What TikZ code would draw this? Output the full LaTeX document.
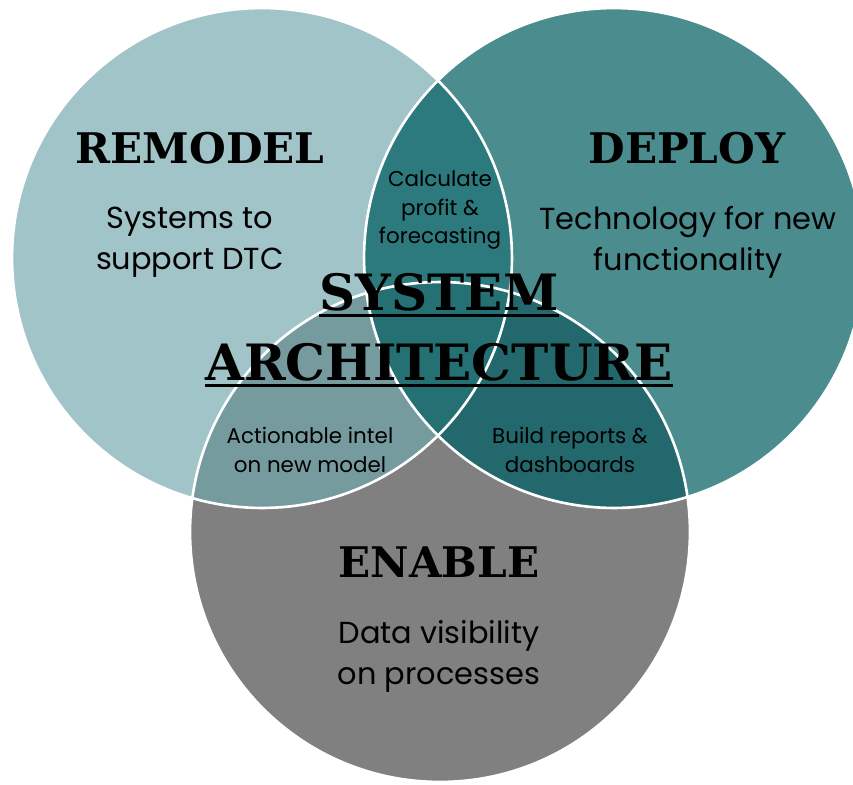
\documentclass[tikz,border=0pt]{standalone}
\usepackage{fontspec}
\setmainfont{Poppins}
\newfontfamily\headfont{DejaVu Serif}
\usetikzlibrary{positioning}

\definecolor{remodelc}{HTML}{A0C4C8}
\definecolor{deployc}{HTML}{4B8C8F}
\definecolor{enablec}{HTML}{808080}
\definecolor{lrc}{HTML}{2C7A7D}
\definecolor{lbc}{HTML}{769B9E}
\definecolor{rbc}{HTML}{23686C}
\definecolor{lrbc}{HTML}{247073}

\begin{document}
\begin{tikzpicture}[x=0.02cm,y=-0.02cm]

\tikzstyle{head}=[font=\headfont\bfseries\fontsize{24}{29}\selectfont, text=black]
\tikzstyle{title}=[font=\headfont\bfseries\fontsize{28.5}{34}\selectfont, text=black, inner sep=0pt, anchor=base]
\tikzstyle{body}=[font=\fontsize{17.3}{23.3}\selectfont, align=center]
\tikzstyle{small}=[font=\fontsize{12.2}{16.4}\selectfont, align=center]
\tikzstyle{ring}=[white, line width=1.5pt]

\useasboundingbox (0,0) rectangle (853,785);

\coordinate (L) at (262,258);
\coordinate (R) at (614,258);
\coordinate (B) at (440,532);

% circles
\fill[remodelc] (L) circle[radius=5cm];
\fill[deployc] (R) circle[radius=5cm];
\fill[enablec] (B) circle[radius=5cm];

% overlaps
\begin{scope}
\clip (R) circle[radius=5cm];
\fill[rbc] (B) circle[radius=5cm];
\end{scope}
\begin{scope}
\clip (L) circle[radius=5cm];
\fill[lrc] (R) circle[radius=5cm];
\fill[lbc] (B) circle[radius=5cm];
\clip (R) circle[radius=5cm];
\fill[lrbc] (B) circle[radius=5cm];
\end{scope}

\draw[ring] (L) circle[radius=5cm];
\draw[ring] (R) circle[radius=5cm];
\draw[ring] (B) circle[radius=5cm];

% labels
\node[head] (remodel) at (200,148) {REMODEL};
\node[body] (remodeltxt) at (190,242) {Systems to\\support DTC};
\node[head] (deploy) at (687,148) {DEPLOY};
\node[body] (deploytxt) at (688,242) {Technology for new\\functionality};
\node[head] (enable) at (439,562) {ENABLE};
\node[body] (enabletxt) at (439,656) {Data visibility\\on processes};

\node[small] (lr) at (440,210) {Calculate\\profit \&\\forecasting};
\node[small] (lb) at (310,450) {Actionable intel\\on new model};
\node[small] (rb) at (570,450) {Build reports \&\\dashboards};

\node[title] (sys) at (439,310) {SYSTEM};
\node[title] (arch) at (439,380) {ARCHITECTURE};
\draw[line width=1.4pt] ([yshift=-3pt]sys.base west) -- ([yshift=-3pt]sys.base east);
\draw[line width=1.4pt] ([yshift=-3pt]arch.base west) -- ([yshift=-3pt]arch.base east);

\end{tikzpicture}
\end{document}
